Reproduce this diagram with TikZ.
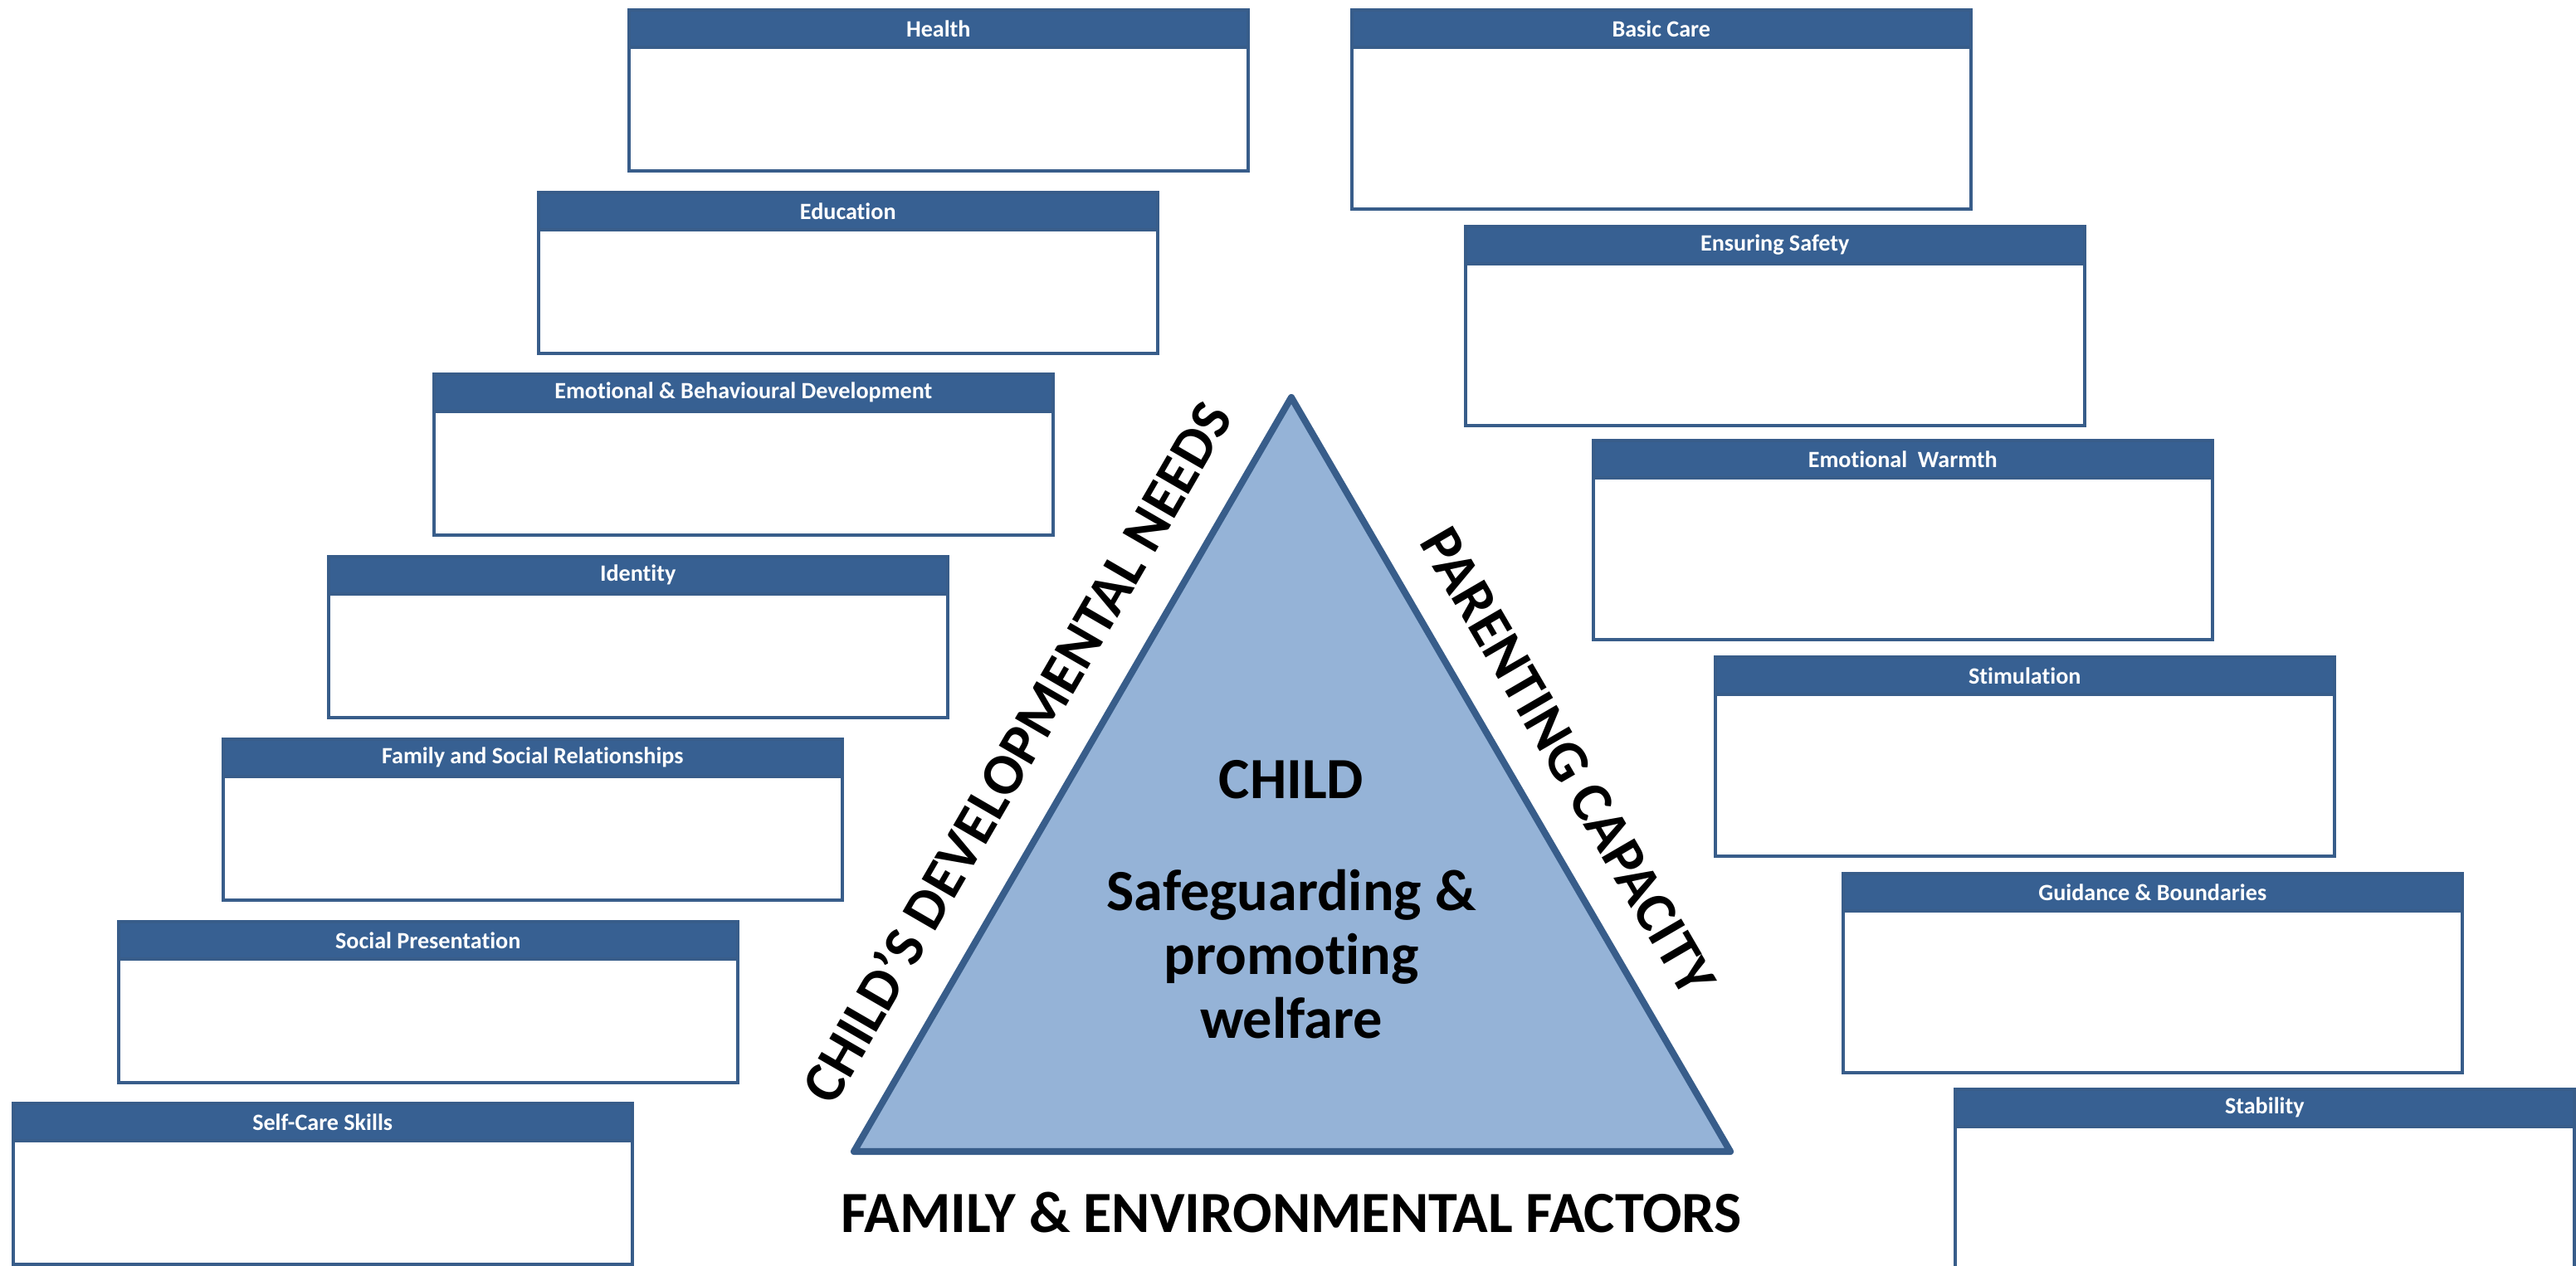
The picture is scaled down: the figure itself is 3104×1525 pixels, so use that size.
\documentclass[tikz,border=0pt]{standalone}
\usepackage{fontspec}
\setmainfont{Carlito}[Ligatures=CommonOff]
\usetikzlibrary{positioning}

\definecolor{edgeblue}{RGB}{56,93,138}
\definecolor{barblue}{RGB}{55,96,146}
\definecolor{trifill}{RGB}{149,179,215}

\tikzset{
  panel/.style={draw=edgeblue, line width=1pt, fill=white, inner sep=0pt, minimum width=7.46cm, minimum height=1.94cm, anchor=north west},
  tallpanel/.style={panel, minimum height=2.4cm},
  head/.style={draw=edgeblue, line width=1pt, fill=barblue, inner sep=0pt, minimum width=7.46cm, minimum height=0.45cm, anchor=north, text=white, font=\fontsize{8}{9}\selectfont\bfseries},
  bigtext/.style={font=\fontsize{20}{22}\selectfont\bfseries, align=center}
}

\begin{document}
\begin{tikzpicture}[x=0.1mm, y=-0.1mm]
    \useasboundingbox (0,0) rectangle (3104,1525);

    \node[panel] (health) at (756, 10) {};
    \node[head] (healthhead) at (health.north) {Health};
    \node[panel] (education) at (647, 230) {};
    \node[head] (educationhead) at (education.north) {Education};
    \node[panel] (emotional) at (521, 449) {};
    \node[head] (emotionalhead) at (emotional.north) {Emotional \& Behavioural Development};
    \node[panel] (identity) at (394, 669) {};
    \node[head] (identityhead) at (identity.north) {Identity};
    \node[panel] (family) at (267, 889) {};
    \node[head] (familyhead) at (family.north) {Family and Social Relationships};
    \node[panel] (social) at (141, 1109) {};
    \node[head] (socialhead) at (social.north) {Social Presentation};
    \node[panel] (selfcare) at (14, 1328) {};
    \node[head] (selfcarehead) at (selfcare.north) {Self-Care Skills};

    \node[tallpanel] (basiccare) at (1627, 10) {};
    \node[head] (basiccarehead) at (basiccare.north) {Basic Care};
    \node[tallpanel] (safety) at (1764, 271) {};
    \node[head] (safetyhead) at (safety.north) {Ensuring Safety};
    \node[tallpanel] (warmth) at (1918, 529) {};
    \node[head] (warmthhead) at (warmth.north) {Emotional\ \ Warmth};
    \node[tallpanel] (stimulation) at (2065, 790) {};
    \node[head] (stimulationhead) at (stimulation.north) {Stimulation};
    \node[tallpanel] (guidance) at (2219, 1051) {};
    \node[head] (guidancehead) at (guidance.north) {Guidance \& Boundaries};
    \node[tallpanel] (stability) at (2354, 1311) {};
    \node[head] (stabilityhead) at (stability.north) {Stability};

    \coordinate (apex) at (1556, 479);
    \coordinate (left) at (1029, 1388);
    \coordinate (right) at (2085, 1388);
    \draw[draw=edgeblue, fill=trifill, line width=2.3pt, line join=round] (apex) -- (right) -- (left) -- cycle;

    \node[bigtext] (child) at (1556, 940) {CHILD};
    \node[bigtext] (welfare) at (1556, 1150) {Safeguarding \&\\promoting\\welfare};

    \path (left) -- node[bigtext, sloped, above=10pt, pos=0.49] (needs) {CHILD’S DEVELOPMENTAL NEEDS} (apex);
    \path (apex) -- node[bigtext, sloped, above=9pt, pos=0.52] (parenting) {PARENTING CAPACITY} (right);
    \node[bigtext] (factors) at (1556, 1461) {FAMILY \& ENVIRONMENTAL FACTORS};
\end{tikzpicture}
\end{document}
